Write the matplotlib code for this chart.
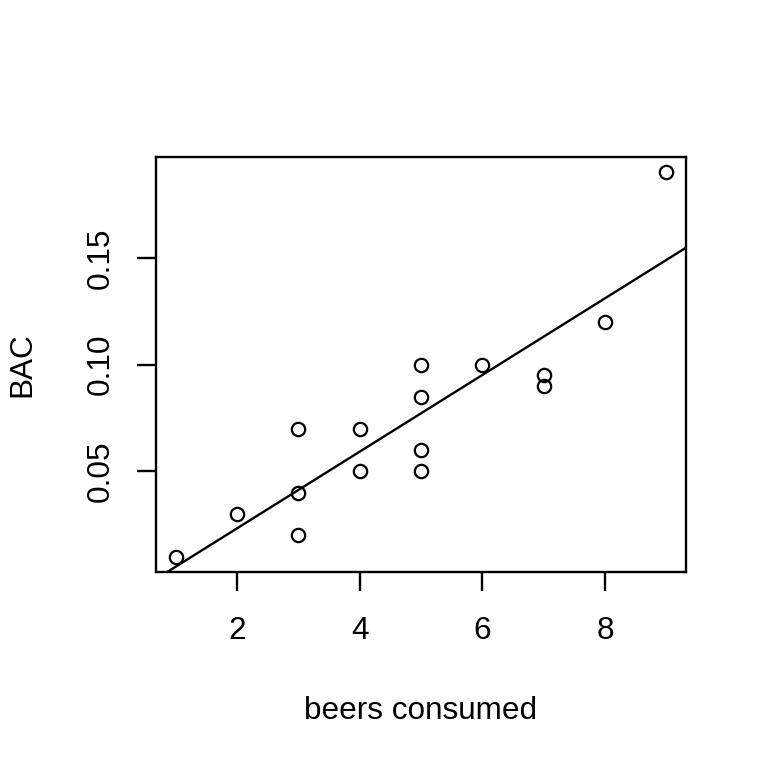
import numpy as np
import matplotlib
matplotlib.use("Agg")
from matplotlib import pyplot as plt

# beers consumed vs blood alcohol content (16 students)
beers = [5, 2, 9, 8, 3, 7, 3, 5, 3, 5, 4, 6, 5, 7, 1, 4]
bac = [0.10, 0.03, 0.19, 0.12, 0.04, 0.095, 0.07, 0.06, 0.02, 0.05,
       0.07, 0.10, 0.085, 0.09, 0.01, 0.05]
x_ticks = [2, 4, 6, 8]
y_ticks = [0.05, 0.10, 0.15]
y_tick_labels = ["0.05", "0.10", "0.15"]

plt.rcParams['font.family'] = ['Liberation Sans', 'DejaVu Sans']

fig = plt.figure(figsize=(7.68, 7.68), dpi=100)
ax = fig.add_axes([156 / 768, (768 - 572) / 768, 530 / 768, 415 / 768])

ax.plot(beers, bac, linestyle='none', marker='o', markersize=9.6,
        markerfacecolor='none', markeredgecolor='black', markeredgewidth=1.6)

# least squares fit, drawn across the whole plot like abline()
slope, intercept = np.polyfit(beers, bac, 1)
xmin, xmax = min(beers), max(beers)
ext = 0.04 * (xmax - xmin)
ymin, ymax = min(bac), max(bac)
eyt = 0.04 * (ymax - ymin)
ax.set_xlim(xmin - ext, xmax + ext)
ax.set_ylim(ymin - eyt, ymax + eyt)
xs = np.array(ax.get_xlim())
ax.plot(xs, intercept + slope * xs, color='black', linewidth=1.7)

ax.set_xticks(x_ticks)
ax.set_yticks(y_ticks)
ax.set_yticklabels(y_tick_labels, rotation=90, va='center')
ax.tick_params(axis='both', direction='out', length=14, width=1.7,
               labelsize=22.7, colors='black')
ax.tick_params(axis='x', pad=18)
ax.tick_params(axis='y', pad=15)
for s in ax.spines.values():
    s.set_linewidth(1.7)

ax.set_xlabel("beers consumed", fontsize=22.7, labelpad=36)
ax.set_ylabel("BAC", fontsize=22.7, labelpad=35)

plt.savefig("out.png", dpi=100)
plt.close()
